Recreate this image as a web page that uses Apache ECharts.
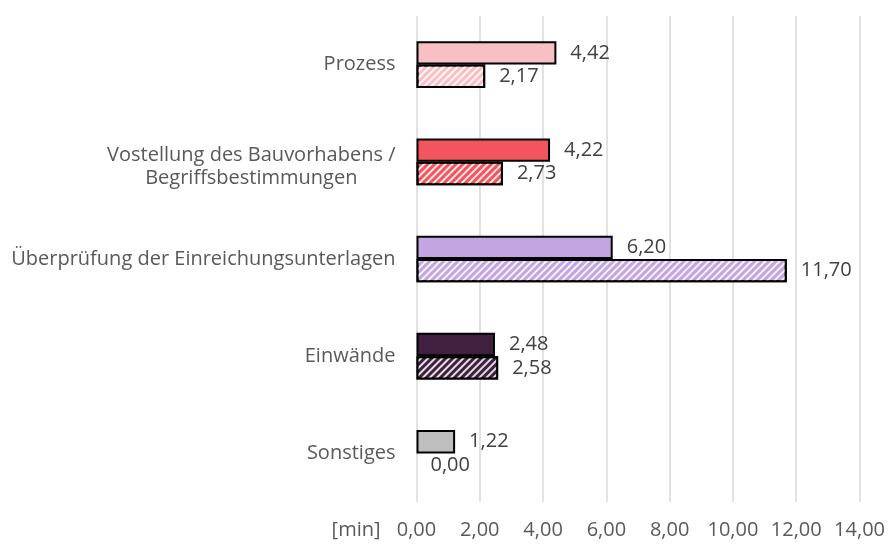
<!DOCTYPE html>
<html>
<head>
<meta charset="utf-8">
<script src="https://cdn.jsdelivr.net/npm/echarts@6/dist/echarts.min.js"></script>
<style>html,body{margin:0;padding:0;background:#fff}#c{width:888px;height:545px}</style>
</head>
<body>
<div id="c"></div>
<script>
const categories = ["Prozess", "Vostellung des Bauvorhabens /\nBegriffsbestimmungen", "Überprüfung der Einreichungsunterlagen", "Einwände", "Sonstiges"];
const valuesSolid = [4.42, 4.22, 6.20, 2.48, 1.22];
const valuesHatched = [2.17, 2.73, 11.70, 2.58, 0.00];
const colors = ["#F8C0C4", "#F4545E", "#C3A6E1", "#40203F", "#BFBFBF"];
const xTicks = [0, 2, 4, 6, 8, 10, 12, 14];

const FONT = "'Open Sans', sans-serif";
const FS = 20;
const fmt = v => v.toFixed(2).replace('.', ',');
const decal = {
  symbol: 'rect', symbolSize: 1, color: 'rgba(255,255,255,0.85)',
  dashArrayX: [1, 0], dashArrayY: [2, 3], rotation: -Math.PI / 4
};
const itemStyleFor = (v, i, withDecal) => {
  const s = {color: colors[i], borderColor: '#000', borderWidth: v === 0 ? 0 : 2};
  if (withDecal) s.decal = decal;
  return s;
};

const chart = echarts.init(document.getElementById('c'), null, {renderer: 'canvas'});
chart.setOption({
  animation: false,
  grid: {left: 416.5, right: 27, top: 16, bottom: 43, containLabel: false},
  xAxis: {
    type: 'value', min: xTicks[0], max: xTicks[xTicks.length - 1], interval: 2,
    axisLine: {show: false}, axisTick: {show: false},
    splitLine: {show: true, lineStyle: {color: '#D9D9D9', width: 1.5}},
    axisLabel: {formatter: v => fmt(v), color: '#595959', fontFamily: FONT, fontSize: FS, margin: 18},
    name: '[min]', nameLocation: 'start', nameGap: 36,
    nameTextStyle: {color: '#595959', fontFamily: FONT, fontSize: FS, align: 'right', verticalAlign: 'top', padding: [18, 0, 0, 0]}
  },
  yAxis: {
    type: 'category', data: categories, inverse: true,
    axisLine: {show: false}, axisTick: {show: false},
    axisLabel: {
      color: '#595959', fontFamily: FONT, fontSize: FS, margin: 21,
      formatter: v => {
        const parts = v.split('\n');
        const body = parts.map(s => '{c|' + s + '}').join('\n');
        return parts.length > 1 ? '{s|}\n' + body : body;
      },
      rich: {
        c: {align: 'center', color: '#595959', fontFamily: FONT, fontSize: FS, lineHeight: 23},
        s: {lineHeight: 10, fontSize: 4}
      }
    }
  },
  series: [
    {
      type: 'bar', barGap: '0%', barCategoryGap: '52%',
      data: valuesSolid.map((v, i) => ({value: v, itemStyle: itemStyleFor(v, i, false)})),
      label: {show: true, position: 'right', distance: 14, formatter: p => fmt(p.value), color: '#404040', fontFamily: FONT, fontSize: FS}
    },
    {
      type: 'bar',
      data: valuesHatched.map((v, i) => ({value: v, itemStyle: itemStyleFor(v, i, true)})),
      label: {show: true, position: 'right', distance: 14, formatter: p => fmt(p.value), color: '#404040', fontFamily: FONT, fontSize: FS}
    }
  ]
});
</script>
</body>
</html>
